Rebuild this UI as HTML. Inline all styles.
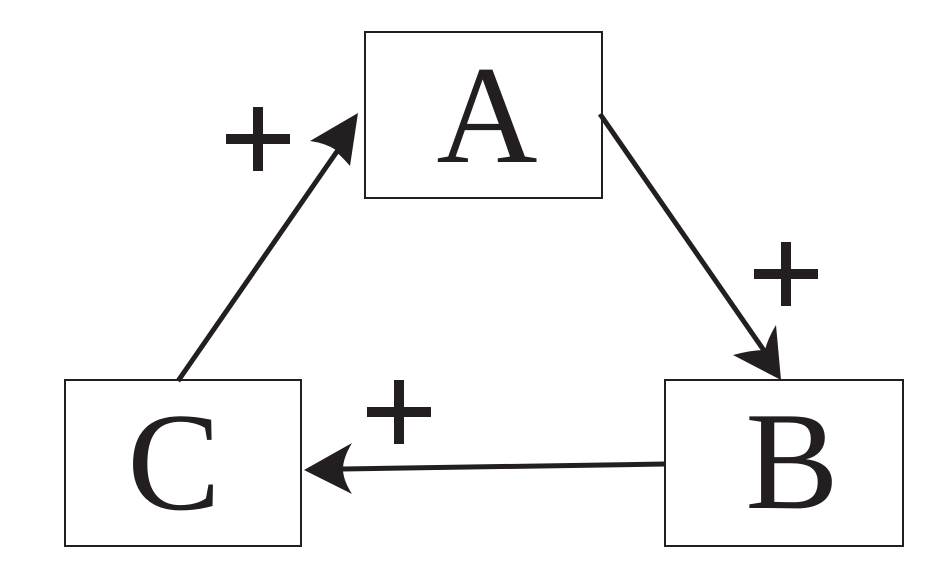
<!DOCTYPE html>
<html><head><meta charset="utf-8"><style>
html,body{margin:0;padding:0;background:#fff;width:930px;height:576px;overflow:hidden}
</style></head><body>
<svg width="930" height="576" viewBox="0 0 930 576" xmlns="http://www.w3.org/2000/svg">
<g fill="none" stroke="#231f20" stroke-width="2">
<rect x="365" y="32" width="237" height="166"/>
<rect x="665" y="380" width="238" height="166"/>
<rect x="65" y="380" width="236" height="166"/>
</g>
<g stroke="#231f20" stroke-width="5" fill="none">
<line x1="178" y1="381" x2="338" y2="150"/>
<line x1="600" y1="114" x2="765" y2="352"/>
<line x1="665" y1="464" x2="343" y2="469"/>
</g>
<g fill="#231f20">
<path d="M358,113 L350,166 Q336,150 334,152 L336,150 Q325,143 310,141 Z"/>
<path d="M781,380 L733,355 Q752,350 765,350 Q768,338 776,325 Z"/>
<path d="M304,470 L352,443 Q343,458 343,469 Q343,480 352,494 Z"/>
</g>
<g font-family="Liberation Serif, serif" fill="#231f20" font-size="140" text-anchor="middle">
<text x="487" y="162">A</text>
<text x="792" y="508">B</text>
<text x="174" y="509">C</text>
</g>
<g stroke="#231f20" stroke-width="10">
<line x1="226" y1="139" x2="290" y2="139"/><line x1="258" y1="107" x2="258" y2="171"/>
<line x1="754" y1="274" x2="818" y2="274"/><line x1="786" y1="242" x2="786" y2="306"/>
<line x1="367" y1="412" x2="431" y2="412"/><line x1="399" y1="380" x2="399" y2="444"/>
</g>
</svg>
</body></html>
